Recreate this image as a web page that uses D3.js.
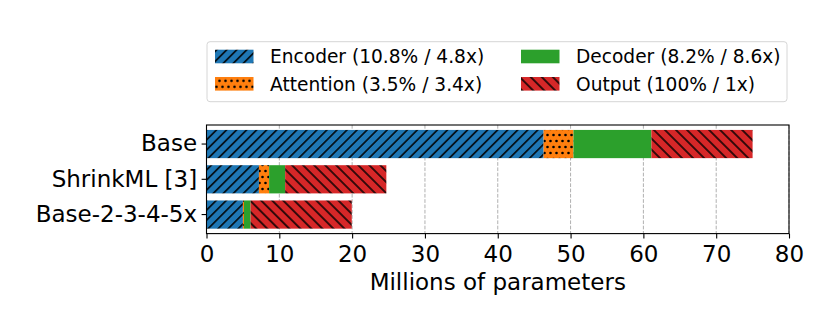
<!DOCTYPE html>
<meta charset="utf-8">
<style>
body {
  margin: 0;
  font-family: "DejaVu Sans";
}
.grid line {
  stroke: #b0b0b0;
  stroke-width: 1;
  stroke-dasharray: 3.7,1.6;
}
</style>
<body>
<script src="https://d3js.org/d3.v7.min.js"></script>
<script>

var width = 830,
    height = 312;

// values (millions of parameters)
var categories = ["Base", "ShrinkML [3]", "Base-2-3-4-5x"];
var encoder = [46.3, 7.2, 5.0];
var attention = [4.1, 1.4, 0.15];
var decoder = [10.7, 2.2, 0.9];
var output = [13.9, 13.9, 13.9];

var seriesKeys = ["encoder", "attention", "decoder", "output"];
var seriesLabels = ["Encoder (10.8% / 4.8x)", "Attention (3.5% / 3.4x)",
                    "Decoder (8.2% / 8.6x)", "Output (100% / 1x)"];
var xTicks = [0, 10, 20, 30, 40, 50, 60, 70, 80];

var colors = {encoder: "#1f77b4", attention: "#ff7f0e", decoder: "#2ca02c", output: "#d62728"};

var rows = categories.map(function(c, i) {
  return {name: c, encoder: encoder[i], attention: attention[i], decoder: decoder[i], output: output[i]};
});

var x = d3.scaleLinear().domain([0, 80]).range([206.5, 789]);
var y = d3.scaleBand().domain(categories).range([125, 233.6])
    .paddingInner(0.2).paddingOuter(0.14);

var svg = d3.select("body").append("svg")
    .attr("width", width)
    .attr("height", height)
    .style("background", "#fff");

var defs = svg.append("defs");

// hatch patterns like matplotlib's "//", "\\" and "."
function linePattern(id, color, spacing, angle) {
  var p = defs.append("pattern")
      .attr("id", id)
      .attr("patternUnits", "userSpaceOnUse")
      .attr("width", spacing)
      .attr("height", spacing)
      .attr("patternTransform", "rotate(" + angle + ")");
  p.append("rect").attr("width", spacing).attr("height", spacing).attr("fill", color);
  p.append("line")
      .attr("x1", spacing / 2).attr("x2", spacing / 2)
      .attr("y1", 0).attr("y2", spacing)
      .attr("stroke", "#000").attr("stroke-width", 1.5);
}
linePattern("hatch-encoder", colors.encoder, 7.1, 45);
linePattern("hatch-output", colors.output, 7.8, -45);

var dots = defs.append("pattern")
    .attr("id", "hatch-attention")
    .attr("patternUnits", "userSpaceOnUse")
    .attr("width", 6)
    .attr("height", 12);
dots.append("rect").attr("width", 6).attr("height", 12).attr("fill", colors.attention);
[[1.5, 3], [4.5, 9]].forEach(function(d) {
  dots.append("circle").attr("cx", d[0]).attr("cy", d[1]).attr("r", 1.3).attr("fill", "#000");
});

function fillFor(key) {
  return key === "decoder" ? colors.decoder : "url(#hatch-" + key + ")";
}

// grid
svg.append("g")
    .attr("class", "grid")
  .selectAll("line")
    .data(xTicks)
  .enter().append("line")
    .attr("x1", function(d) { return x(d); })
    .attr("x2", function(d) { return x(d); })
    .attr("y1", 125)
    .attr("y2", 233.6);

// stacked bars
var stacked = d3.stack().keys(seriesKeys)(rows);

svg.append("g").selectAll("g")
    .data(stacked)
  .enter().append("g")
    .attr("fill", function(d) { return fillFor(d.key); })
  .selectAll("rect")
    .data(function(d) { return d; })
  .enter().append("rect")
    .attr("x", function(d) { return x(d[0]); })
    .attr("width", function(d) { return x(d[1]) - x(d[0]); })
    .attr("y", function(d) { return y(d.data.name); })
    .attr("height", y.bandwidth());

// frame
svg.append("rect")
    .attr("x", 206.5)
    .attr("y", 125)
    .attr("width", 789 - 206.5)
    .attr("height", 233.6 - 125)
    .attr("fill", "none")
    .attr("stroke", "#000")
    .attr("stroke-width", 1.1);

// axes
var xAxis = svg.append("g")
    .attr("transform", "translate(0,233.6)")
    .call(d3.axisBottom(x).tickValues(xTicks).tickSize(4.9).tickPadding(7.5));
var yAxis = svg.append("g")
    .attr("transform", "translate(206.5,0)")
    .call(d3.axisLeft(y).tickSize(4.9).tickPadding(4.5));

[xAxis, yAxis].forEach(function(a) {
  a.select(".domain").remove();
  a.selectAll(".tick line").attr("stroke", "#000").attr("stroke-width", 1.1);
  a.selectAll(".tick text")
      .attr("fill", "#000")
      .style("font-family", "DejaVu Sans")
      .style("font-size", "23px");
});

svg.append("text")
    .attr("x", (206.5 + 789) / 2)
    .attr("y", 290)
    .attr("text-anchor", "middle")
    .style("font-size", "23px")
    .text("Millions of parameters");

// legend
var legend = svg.append("g");
legend.append("rect")
    .attr("x", 207)
    .attr("y", 41.7)
    .attr("width", 580)
    .attr("height", 60)
    .attr("rx", 3)
    .attr("fill", "#fff")
    .attr("stroke", "#d6d6d6")
    .attr("stroke-width", 1);

var colX = [215, 521],
    rowY = [56.5, 83.8];

var items = legend.selectAll(".item")
    .data(seriesKeys)
  .enter().append("g")
    .attr("class", "item")
    .attr("transform", function(d, i) {
      return "translate(" + colX[Math.floor(i / 2)] + "," + rowY[i % 2] + ")";
    });

items.append("rect")
    .attr("x", 0)
    .attr("y", -6.8)
    .attr("width", 38.5)
    .attr("height", 13.6)
    .attr("fill", function(d) { return fillFor(d); });

items.append("text")
    .attr("x", 55)
    .attr("dy", "0.36em")
    .style("font-size", "18.6px")
    .text(function(d, i) { return seriesLabels[i]; });

</script>
